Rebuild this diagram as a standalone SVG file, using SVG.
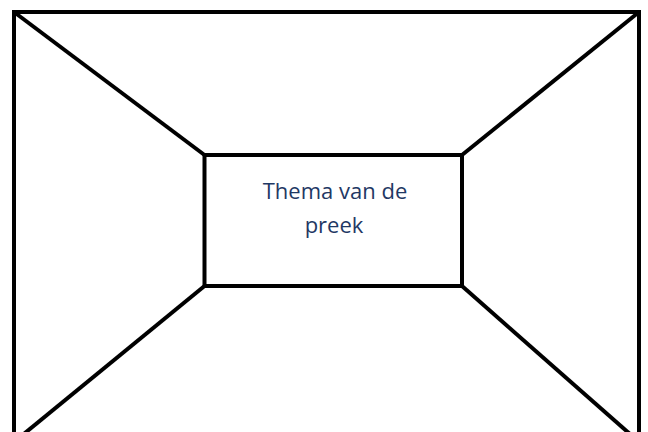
<svg xmlns="http://www.w3.org/2000/svg" width="648" height="432" viewBox="0 0 648 432">
<style>
.ln{stroke:#000;stroke-width:4;fill:none;stroke-linecap:butt}
.t{font-family:"Open Sans","Noto Sans",sans-serif;font-size:22px;fill:#1F3864;text-anchor:middle}
</style>
<rect width="648" height="432" fill="#fff"/>
<g id="outer"><rect class="ln" x="14" y="12" width="625" height="432"/></g>
<g id="connectors">
<line class="ln" x1="14" y1="12" x2="204.5" y2="155"/>
<line class="ln" x1="639" y1="12" x2="462" y2="155"/>
<line class="ln" x1="204.5" y1="286" x2="14" y2="442"/>
<line class="ln" x1="462" y1="286" x2="639" y2="442"/>
</g>
<g id="center">
<rect class="ln" x="204.5" y="155" width="257.5" height="131"/>
<text class="t" x="335" y="199">Thema van de</text>
<text class="t" x="334" y="233">preek</text>
</g>
</svg>
